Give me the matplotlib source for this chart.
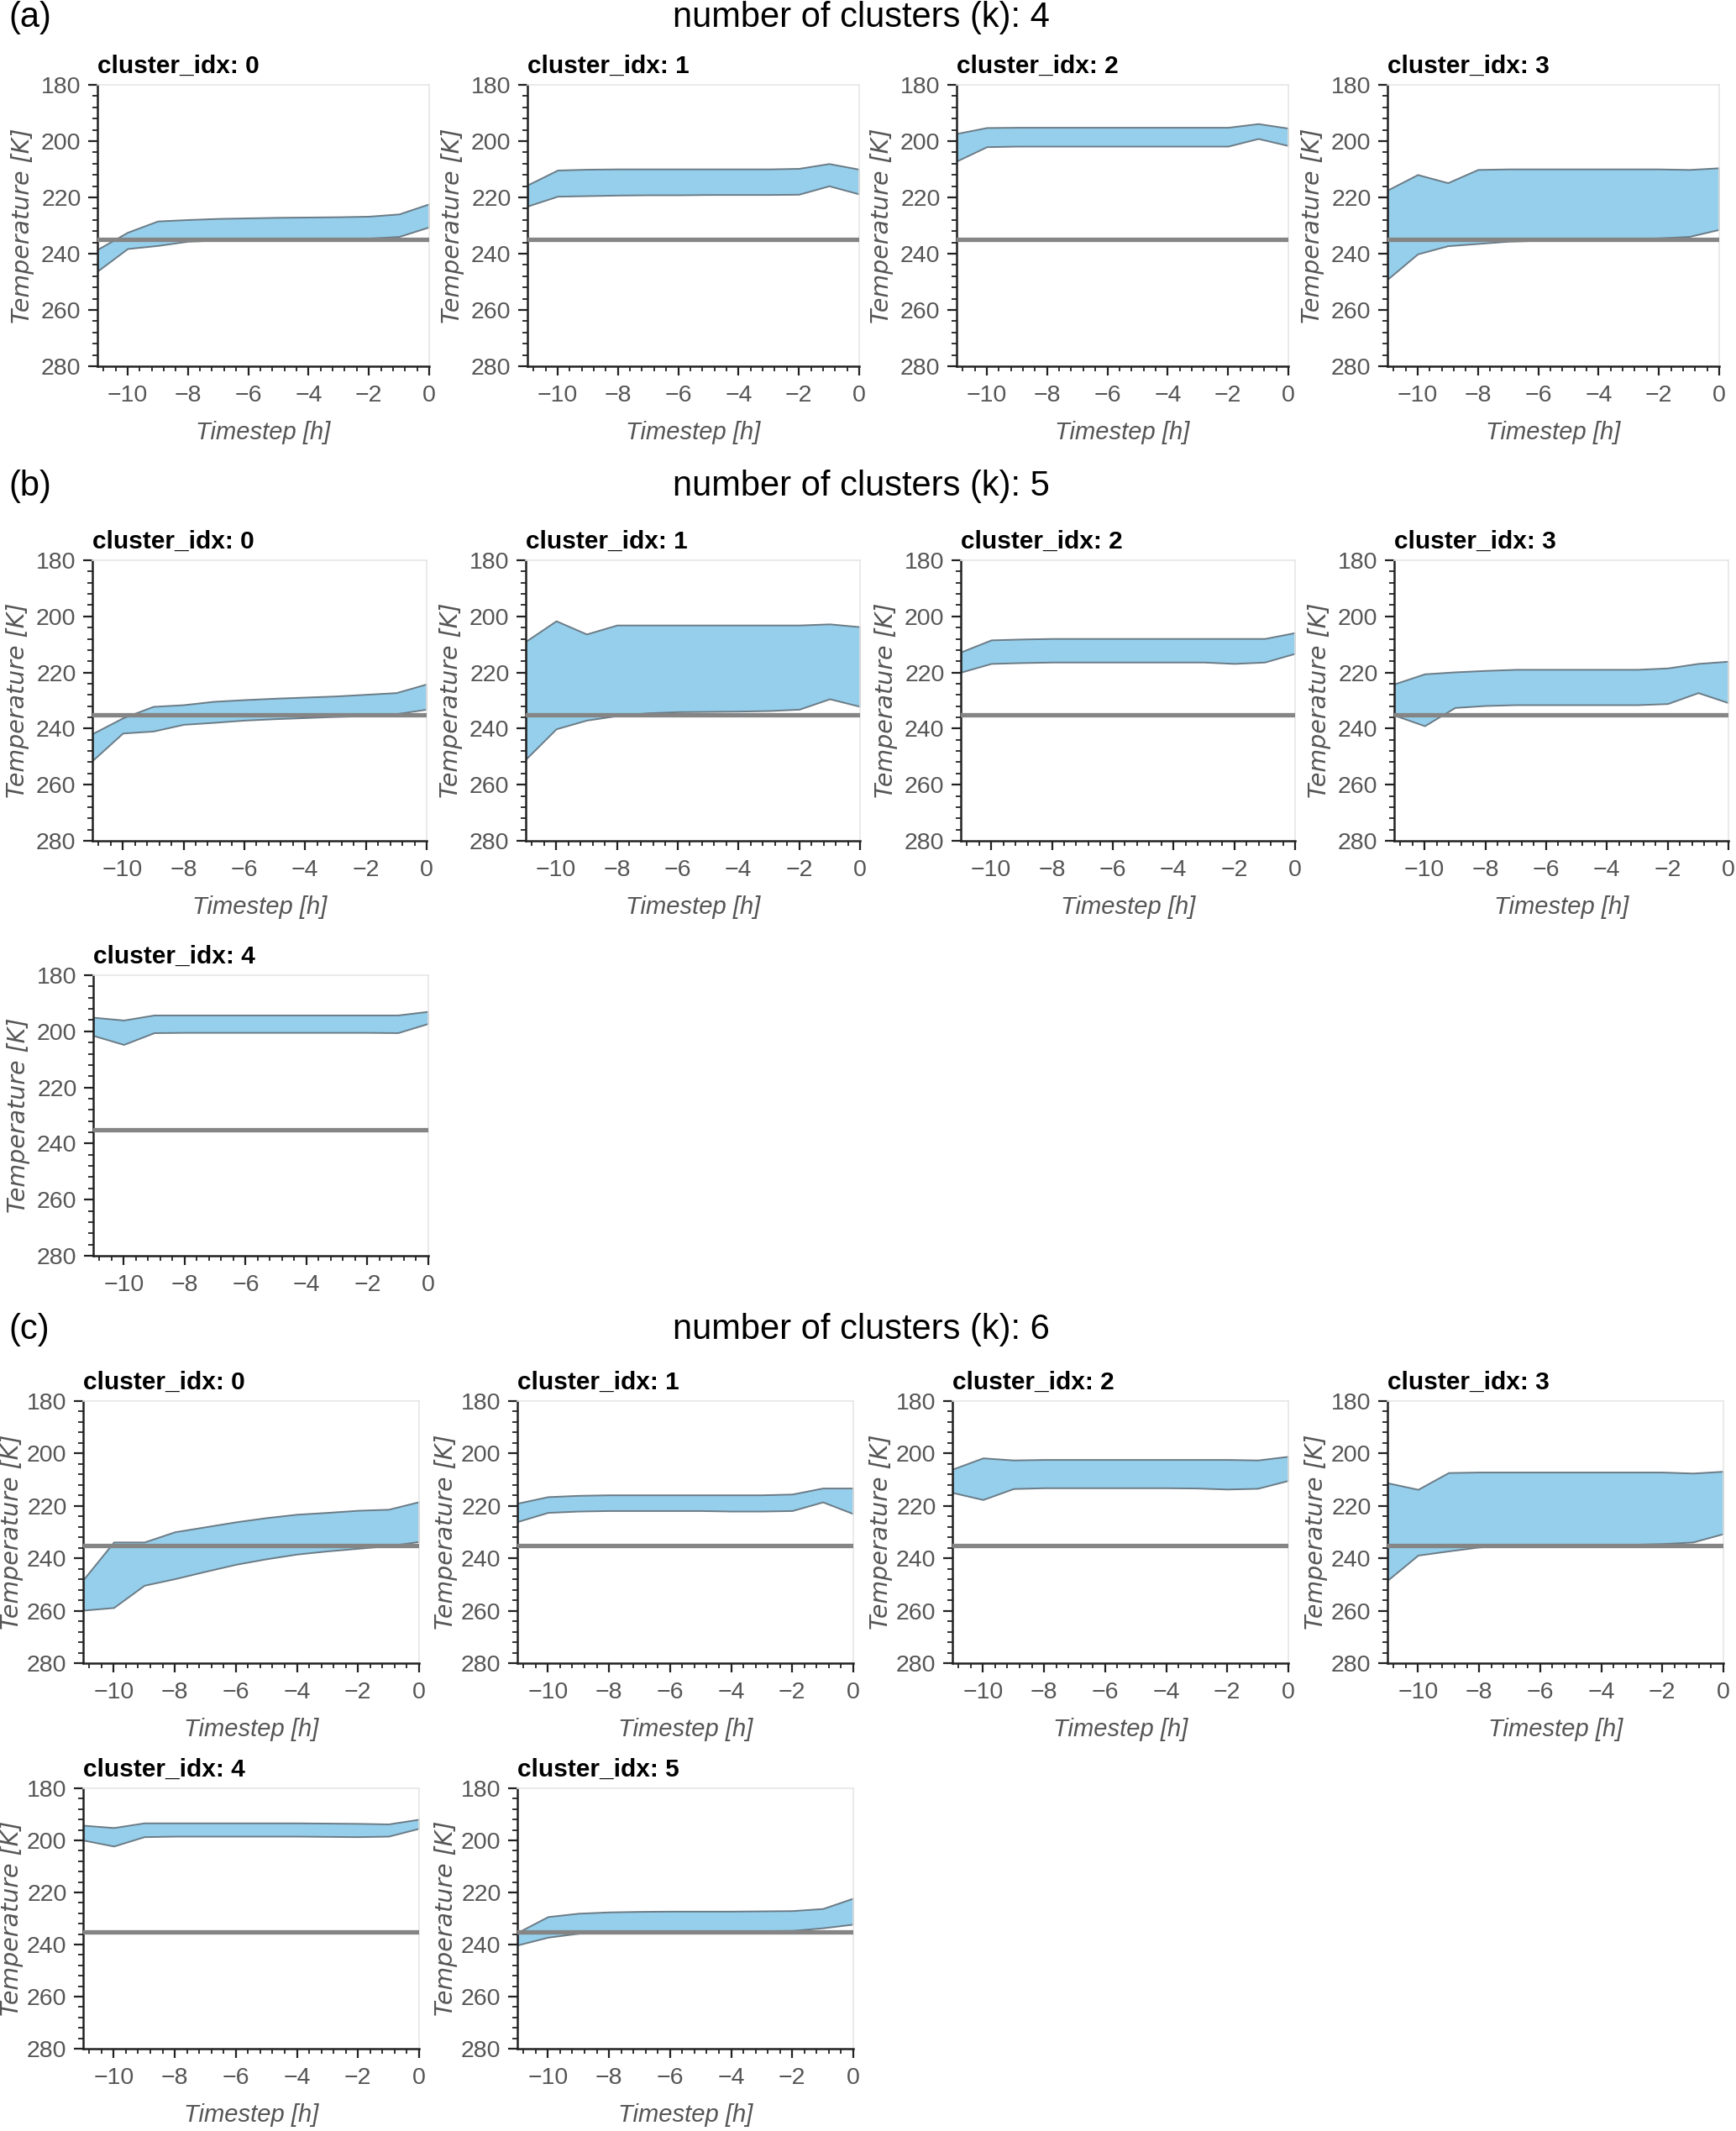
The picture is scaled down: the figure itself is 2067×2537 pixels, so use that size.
import matplotlib
matplotlib.use("Agg")
import matplotlib.pyplot as plt
from matplotlib.ticker import AutoMinorLocator, MultipleLocator

# ── data: per-cluster temperature envelope (min / max) per timestep ─────
STEPS = list(range(-11, 1))
THRESHOLD = 235

K4_MIN = [
    [238.5, 232.4, 228.4, 227.9, 227.5, 227.3, 227.1, 227.0, 226.9, 226.7, 225.9, 222.3],
    [215.6, 210.3, 210.0, 209.9, 209.9, 209.9, 209.9, 209.9, 209.9, 209.7, 208.0, 210.0],
    [197.3, 195.2, 195.1, 195.1, 195.1, 195.1, 195.1, 195.1, 195.1, 195.1, 193.8, 195.4],
    [217.4, 211.9, 214.8, 210.1, 209.9, 209.9, 209.9, 209.9, 209.9, 209.9, 210.1, 209.5],
]
K4_MAX = [
    [246.2, 238.2, 237.1, 235.6, 235.2, 235.0, 234.9, 234.8, 234.7, 234.5, 233.9, 230.5],
    [223.1, 219.6, 219.4, 219.2, 219.1, 219.1, 219.0, 219.0, 219.0, 218.9, 215.9, 218.8],
    [207.1, 202.0, 201.8, 201.8, 201.8, 201.8, 201.8, 201.8, 201.8, 201.8, 199.1, 201.6],
    [249.1, 240.1, 237.2, 236.4, 235.6, 235.3, 235.1, 234.9, 234.8, 234.4, 233.9, 231.4],
]

K5_MIN = [
    [241.8, 236.2, 232.1, 231.5, 230.3, 229.7, 229.2, 228.8, 228.4, 227.8, 227.2, 224.1],
    [208.9, 201.6, 206.3, 203.1, 203.1, 203.1, 203.1, 203.1, 203.1, 203.1, 202.7, 203.7],
    [212.7, 208.4, 208.1, 207.9, 207.9, 207.9, 207.9, 207.9, 207.9, 207.9, 207.9, 205.8],
    [224.1, 220.5, 219.8, 219.3, 218.9, 218.9, 218.9, 218.9, 218.9, 218.4, 216.8, 216.0],
    [195.0, 196.0, 194.2, 194.2, 194.2, 194.2, 194.2, 194.2, 194.2, 194.2, 194.2, 192.9],
]
K5_MAX = [
    [251.4, 241.6, 240.9, 238.5, 237.8, 237.0, 236.5, 236.1, 235.7, 235.4, 234.7, 233.1],
    [250.9, 240.1, 237.0, 235.4, 234.4, 234.0, 233.9, 233.8, 233.6, 233.1, 229.4, 232.1],
    [219.9, 216.8, 216.5, 216.3, 216.3, 216.3, 216.3, 216.3, 216.3, 216.8, 216.3, 213.2],
    [235.2, 239.0, 232.5, 231.8, 231.5, 231.5, 231.5, 231.5, 231.5, 231.1, 227.2, 230.8],
    [201.5, 204.7, 200.5, 200.4, 200.4, 200.4, 200.4, 200.4, 200.4, 200.4, 200.5, 197.2],
]

K6_MIN = [
    [248.2, 233.8, 233.8, 229.9, 228.0, 226.1, 224.5, 223.2, 222.5, 221.7, 221.3, 218.4],
    [219.0, 216.5, 216.0, 215.8, 215.8, 215.8, 215.8, 215.8, 215.8, 215.5, 213.2, 213.2],
    [206.0, 201.7, 202.5, 202.3, 202.3, 202.3, 202.3, 202.3, 202.3, 202.3, 202.5, 201.1],
    [211.2, 213.7, 207.3, 207.1, 207.1, 207.1, 207.1, 207.1, 207.1, 207.1, 207.5, 206.8],
    [194.2, 195.1, 193.3, 193.3, 193.3, 193.3, 193.3, 193.3, 193.4, 193.5, 193.7, 191.9],
    [235.4, 229.3, 228.0, 227.5, 227.3, 227.2, 227.2, 227.2, 227.1, 227.0, 226.2, 222.2],
]
K6_MAX = [
    [259.8, 258.8, 250.3, 247.8, 245.0, 242.3, 240.2, 238.4, 237.2, 236.2, 235.2, 233.6],
    [226.0, 222.5, 222.0, 221.8, 221.8, 221.8, 221.8, 222.0, 222.0, 221.8, 218.5, 223.0],
    [214.9, 217.6, 213.4, 213.1, 213.1, 213.1, 213.1, 213.1, 213.2, 213.6, 213.3, 210.3],
    [248.4, 238.8, 237.2, 235.7, 235.1, 234.7, 234.7, 234.7, 234.7, 234.4, 233.8, 230.6],
    [199.9, 202.2, 198.6, 198.4, 198.4, 198.4, 198.4, 198.4, 198.5, 198.6, 198.4, 195.4],
    [240.2, 237.2, 235.7, 235.2, 234.9, 234.9, 234.9, 234.8, 234.7, 234.6, 233.6, 232.2],
]

# ── style ────────────────────────────────────────────────────────────────
W, H = 2067, 2537
NARROW = ["Liberation Sans Narrow", "Liberation Sans", "DejaVu Sans"]
FILL = "#95cfeb"
EDGE = "#6b7b86"
LINE = "#858585"
GREY_TXT = "#555555"


def px_axes(fig, left, top, width, height):
    return fig.add_axes([left / W, 1 - (top + height) / H, width / W, height / H])


def draw_panel(ax, idx, lo, hi, xlabel=True, ypad=6):
    ax.fill_between(STEPS, lo, hi, facecolor=FILL, edgecolor=EDGE,
                    linewidth=1.4, zorder=2)
    ax.axhline(THRESHOLD, color=LINE, lw=3.8, zorder=3)
    ax.set_xlim(-11, 0)
    ax.set_ylim(280, 180)
    ax.xaxis.set_major_locator(MultipleLocator(2))
    ax.yaxis.set_major_locator(MultipleLocator(20))
    ax.xaxis.set_minor_locator(AutoMinorLocator(5))
    ax.yaxis.set_minor_locator(AutoMinorLocator(5))
    ax.tick_params(which="major", length=8, width=1.6, color="#222222",
                   labelsize=20.5, labelcolor=GREY_TXT, pad=6)
    ax.tick_params(axis="x", which="major", pad=8)
    ax.tick_params(which="minor", length=4.5, width=1.3, color="#222222")
    for lab in ax.get_xticklabels() + ax.get_yticklabels():
        lab.set_family(NARROW)
    for side in ("left", "bottom"):
        ax.spines[side].set_color("#222222")
        ax.spines[side].set_linewidth(1.8)
    for side in ("top", "right"):
        ax.spines[side].set_color("#e6e6e6")
        ax.spines[side].set_linewidth(1.2)
    ax.set_title(f"cluster_idx: {idx}", loc="left", fontsize=21.5,
                 fontweight="bold", family=NARROW, pad=10)
    ax.set_ylabel("Temperature [K]", fontsize=20.5, style="italic",
                  color=GREY_TXT, family="DejaVu Sans", labelpad=ypad)
    if xlabel:
        ax.set_xlabel("Timestep [h]", fontsize=21, style="italic",
                      color=GREY_TXT, family=NARROW, labelpad=12)


fig = plt.figure(figsize=(W / 100, H / 100), dpi=100)
fig.patch.set_facecolor("white")

# (a) k = 4
for i, left in enumerate([116, 628, 1139, 1652]):
    ax = px_axes(fig, left, 101, 395, 335)
    draw_panel(ax, i, K4_MIN[i], K4_MAX[i])

# (b) k = 5
for i, left in enumerate([110, 626, 1144, 1660]):
    ax = px_axes(fig, left, 667, 398, 334)
    draw_panel(ax, i, K5_MIN[i], K5_MAX[i])
ax = px_axes(fig, 111, 1161, 399, 334)
draw_panel(ax, 4, K5_MIN[4], K5_MAX[4], xlabel=False)

# (c) k = 6
for i, left in enumerate([99, 616, 1134, 1652]):
    ax = px_axes(fig, left, 1668, 400, 312)
    draw_panel(ax, i, K6_MIN[i], K6_MAX[i], ypad=3)
for i, left in enumerate([99, 616]):
    ax = px_axes(fig, left, 2129, 400, 310)
    draw_panel(ax, i + 4, K6_MIN[i + 4], K6_MAX[i + 4], ypad=3)

# row headers
for tag, k, y in [("(a)", 4, 21), ("(b)", 5, 579), ("(c)", 6, 1583)]:
    fig.text(10 / W, 1 - y / H, tag, fontsize=30, family="Liberation Sans",
             ha="left", va="center")
    fig.text(1025 / W, 1 - y / H, f"number of clusters (k): {k}", fontsize=30,
             family="Liberation Sans", ha="center", va="center")

fig.savefig("out.png", dpi=100, facecolor="white")
plt.close("all")
